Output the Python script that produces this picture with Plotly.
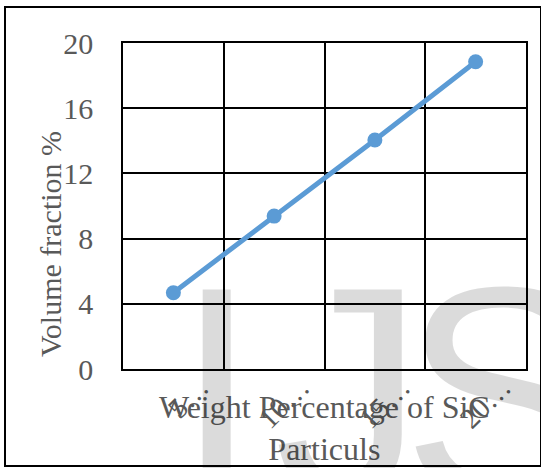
import plotly.graph_objects as go

# ---- data ----
categories = ["5…", "10…", "15…", "20…"]
volume_fraction = [4.68, 9.38, 14.05, 18.85]
y_ticks = [0, 4, 8, 12, 16, 20]

# ---- layout geometry (pixels) ----
W, H = 541, 468
L, R, T, B = 123, 526, 43, 369
PW, PH = R - L, B - T

def px(x):
    return (x - L) / PW

def py(y):
    return (B - y) / PH

FONT = "Liberation Serif, Times New Roman, serif"
GRAY = "#595959"

fig = go.Figure()
fig.add_trace(go.Scatter(
    x=categories, y=volume_fraction, mode="lines+markers",
    line=dict(color="#5B9BD5", width=5),
    marker=dict(color="#5B9BD5", size=15),
    showlegend=False, cliponaxis=False,
))

fig.update_layout(
    width=W, height=H,
    margin=dict(l=L, r=W - R, t=T, b=H - B, pad=0),
    paper_bgcolor="white", plot_bgcolor="white",
    font=dict(family=FONT, color=GRAY, size=29),
    xaxis=dict(
        type="category", tickson="boundaries", range=[-0.5, 3.5],
        showgrid=True, gridcolor="black", gridwidth=1.5,
        showline=True, linecolor="black", linewidth=1.5, mirror=True,
        ticks="", tickangle=-45, ticklabelshift=27, ticklabelstandoff=-12,
        tickfont=dict(size=29, color=GRAY, family=FONT),
    ),
    yaxis=dict(
        range=[0, 20], tickvals=y_ticks,
        showgrid=True, gridcolor="black", gridwidth=1.5,
        showline=True, linecolor="black", linewidth=1.5, mirror=True,
        zeroline=False, ticks="", ticklabelstandoff=22,
        tickfont=dict(size=30, color=GRAY, family=FONT),
    ),
)

# axis titles
fig.add_annotation(
    text="Weight Percentage of SiC<br>Particuls", xref="paper", yref="paper",
    x=px(324.5), y=py(428), xanchor="center", yanchor="middle",
    showarrow=False, font=dict(size=32, color=GRAY, family=FONT),
)
fig.add_annotation(
    text="Volume fraction %", xref="paper", yref="paper",
    x=px(50), y=py(244), xanchor="center", yanchor="middle", textangle=-90,
    showarrow=False, font=dict(size=30, color=GRAY, family=FONT),
)

# watermark letters
WM_FONT = dict(size=300, color="rgba(0,0,0,0.14)", family="Liberation Sans, Arial, sans-serif")
for letter, left in [("I", 173), ("J", 272), ("S", 400)]:
    fig.add_annotation(
        text=letter, xref="paper", yref="paper",
        x=px(left), y=py(222), xanchor="left", yanchor="top",
        showarrow=False, font=WM_FONT,
    )

# outer border
fig.add_shape(
    type="rect", xref="paper", yref="paper",
    x0=px(5), x1=px(541), y0=py(466), y1=py(7),
    line=dict(color="black", width=2), fillcolor="rgba(0,0,0,0)",
)

fig.write_html("out.html")
